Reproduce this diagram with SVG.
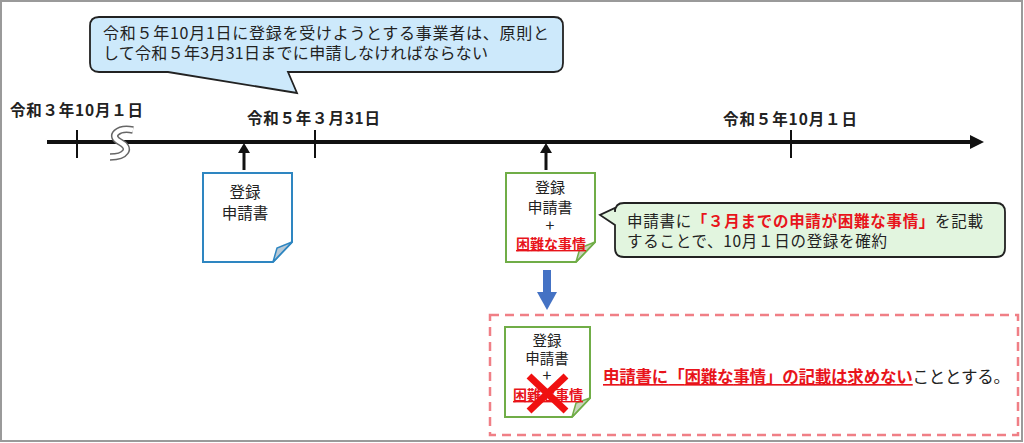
<svg xmlns="http://www.w3.org/2000/svg" width="1024" height="443" viewBox="0 0 1024 443">
<style>
text{font-family:"Noto Sans CJK JP","Noto Sans",sans-serif;fill:#222}
.b{font-weight:bold}
.r{fill:#e8141b;font-weight:bold}
.doc{fill:#fff;stroke-width:2}
.tick{stroke:#111;stroke-width:2}
</style>
<rect x="0" y="0" width="1024" height="443" fill="#fff"/>
<rect x="1" y="1" width="1021" height="440" fill="none" stroke="#9a9a9a" stroke-width="2"/>

<g id="callout-top">
<path d="M99,17 H554 Q563,17 563,26 V63 Q563,72 554,72 H288 L297,93 L168,72 H99 Q90,72 90,63 V26 Q90,17 99,17 Z" fill="#cde9fb" stroke="#222" stroke-width="1.8"/>
<text x="103" y="39" font-size="16" textLength="446" lengthAdjust="spacing">令和５年10月1日に登録を受けようとする事業者は、原則と</text>
<text x="103" y="59" font-size="16" textLength="385" lengthAdjust="spacing">して令和５年3月31日までに申請しなければならない</text>
</g>

<g id="connectors">
<line x1="47" y1="142" x2="972" y2="142" stroke="#111" stroke-width="4"/>
<polygon points="970,135 984,142 970,149" fill="#111"/>
<line class="tick" x1="77" y1="130" x2="77" y2="158"/>
<line class="tick" x1="315" y1="130" x2="315" y2="158"/>
<line class="tick" x1="791" y1="130" x2="791" y2="158"/>
<path d="M133,130 C118,127 108,136 120,142 C132,148 126,157 110,157" fill="none" stroke="#666" stroke-width="7.5" stroke-linecap="butt"/>
<path d="M133,130 C118,127 108,136 120,142 C132,148 126,157 110,157" fill="none" stroke="#fff" stroke-width="4.5" stroke-linecap="butt"/>
<line x1="244" y1="170" x2="244" y2="150" stroke="#111" stroke-width="3"/>
<polygon points="238,153 250,153 244,143" fill="#111"/>
<line x1="546" y1="170" x2="546" y2="150" stroke="#111" stroke-width="3"/>
<polygon points="540,153 552,153 546,143" fill="#111"/>
<rect x="543" y="270" width="8" height="24" fill="#4472c4"/>
<polygon points="537,292 557,292 547,310" fill="#4472c4"/>
</g>

<g id="labels">
<text class="b" x="10" y="116" font-size="15.5" textLength="133" lengthAdjust="spacing">令和３年10月１日</text>
<text class="b" x="247" y="124" font-size="15.5" textLength="133" lengthAdjust="spacing">令和５年３月31日</text>
<text class="b" x="723" y="125" font-size="15.5" textLength="134" lengthAdjust="spacing">令和５年10月１日</text>
</g>

<g id="doc1">
<path class="doc" d="M203,173 H292 V242 L273,262 H203 Z" stroke="#2e86c1"/>
<path d="M292,242 L277,248 L273,262 Z" fill="#b8c9d6" stroke="#2e86c1" stroke-width="1.5"/>
<text x="245" y="198" font-size="15.5" text-anchor="middle">登録</text>
<text x="245" y="219" font-size="15.5" text-anchor="middle">申請書</text>
</g>

<g id="doc2">
<path class="doc" d="M506,173 H595 V242 L576,262 H506 Z" stroke="#70ad47"/>
<path d="M595,242 L580,248 L576,262 Z" fill="#c8d6bd" stroke="#70ad47" stroke-width="1.5"/>
<text x="550" y="193" font-size="15" text-anchor="middle">登録</text>
<text x="550" y="213" font-size="15" text-anchor="middle">申請書</text>
<text x="550" y="231" font-size="16" text-anchor="middle">+</text>
<text class="r" x="551" y="249" font-size="14" text-anchor="middle" text-decoration="underline">困難な事情</text>
</g>

<g id="callout-green">
<path d="M624,203 H996 Q1005,203 1005,212 V248 Q1005,257 996,257 H624 Q615,257 615,248 V225 L600,215 L615,208 V212 Q615,203 624,203 Z" fill="#e2f5df" stroke="#222" stroke-width="1.8"/>
<text x="627" y="227" font-size="15.5" textLength="356" lengthAdjust="spacing">申請書に<tspan class="r">「３月までの申請が困難な事情」</tspan>を記載</text>
<text x="627" y="247" font-size="15.5" textLength="260" lengthAdjust="spacing">することで、10月１日の登録を確約</text>
</g>

<g id="result-box">
<rect x="490" y="315" width="528" height="120" fill="none" stroke="#f07f86" stroke-width="2.5" stroke-dasharray="9,6"/>
</g>

<g id="doc3">
<path class="doc" d="M505,327 H590 V398 L572,417 H505 Z" stroke="#70ad47"/>
<path d="M590,398 L576,403 L572,417 Z" fill="#c8d6bd" stroke="#70ad47" stroke-width="1.5"/>
<text x="547" y="346" font-size="14.5" text-anchor="middle">登録</text>
<text x="547" y="364" font-size="14.5" text-anchor="middle">申請書</text>
<text x="547" y="381" font-size="16" text-anchor="middle">+</text>
<text class="r" x="548" y="400" font-size="14" text-anchor="middle" text-decoration="underline">困難な事情</text>
<line x1="529" y1="376" x2="566" y2="411" stroke="#f01010" stroke-width="7"/>
<line x1="566" y1="376" x2="529" y2="411" stroke="#f01010" stroke-width="7"/>
</g>

<g id="result-text">
<text x="603" y="383" font-size="16.5" textLength="407" lengthAdjust="spacing"><tspan class="r" text-decoration="underline">申請書に「困難な事情」の記載は求めない</tspan>こととする。</text>
</g>
</svg>
